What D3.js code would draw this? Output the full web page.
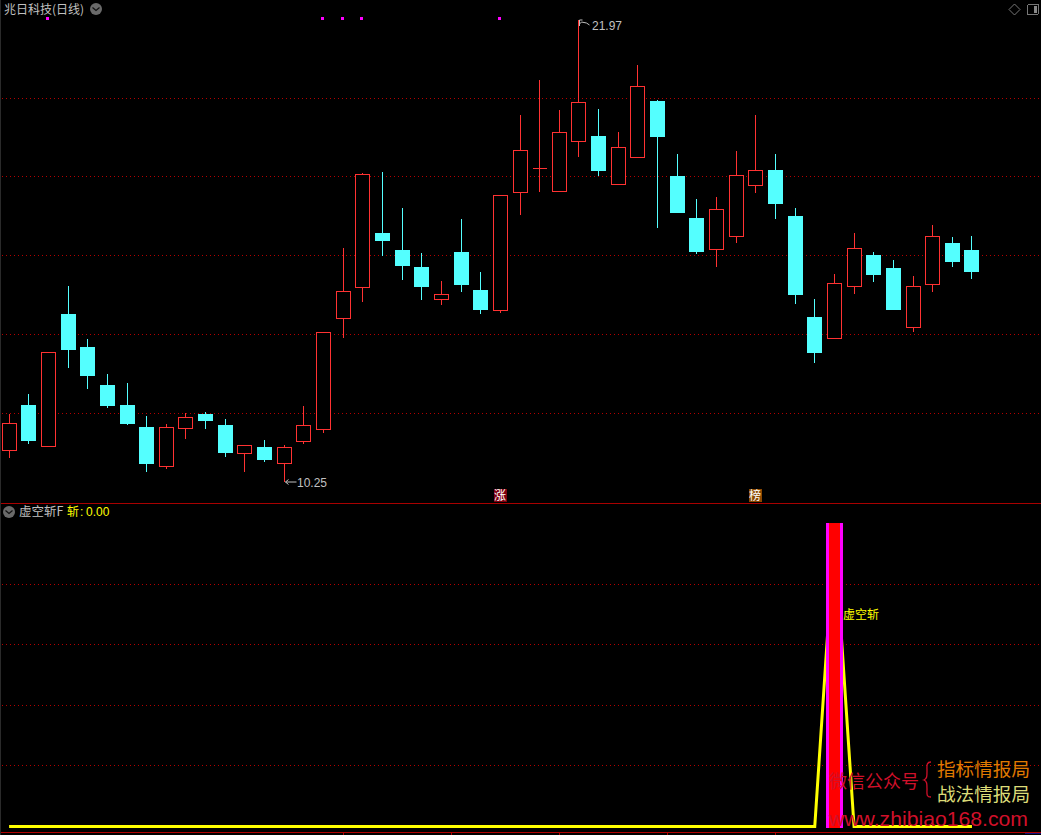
<!DOCTYPE html>
<html><head><meta charset="utf-8">
<script src="https://cdn.jsdelivr.net/npm/d3@7"></script>
<style>html,body{margin:0;padding:0;background:#000;overflow:hidden}svg{display:block}</style>
</head><body><svg id="c" width="1041" height="835"></svg>
<script>
const opens  = [11.04,12.20,11.15,14.51,13.67,12.71,12.20,11.64,10.64,11.60,11.97,11.70,10.95,11.14,10.70,11.27,11.58,14.39,15.18,16.57,16.14,15.70,14.87,16.08,15.12,14.60,17.59,18.21,17.61,18.88,19.03,17.79,18.48,19.92,18.01,16.95,16.14,16.47,17.77,18.17,17.00,14.44,13.89,15.20,16.01,15.68,14.16,15.26,16.31,16.14];
const highs  = [11.97,12.48,13.54,15.22,13.88,12.99,12.76,11.92,11.72,11.99,12.03,11.85,11.18,11.32,11.18,12.18,14.05,16.19,18.09,18.11,17.20,16.06,15.35,16.92,15.58,17.52,19.56,20.45,19.69,21.97,19.71,19.13,20.83,19.94,18.57,17.43,17.48,18.65,19.56,18.57,17.20,14.89,15.53,16.57,16.08,15.88,15.48,16.77,16.47,16.49];
const lows   = [10.87,11.22,11.15,13.15,12.62,12.13,11.70,10.51,10.58,11.34,11.59,10.89,10.51,10.76,10.25,11.22,11.50,13.91,14.82,15.98,15.37,14.87,14.74,15.07,14.51,14.54,17.02,17.61,17.61,18.50,18.01,17.79,18.48,16.69,17.07,16.03,15.70,16.31,17.58,16.92,14.77,13.27,13.89,15.02,15.32,14.61,14.06,15.07,15.70,15.40];
const closes = [11.74,11.29,13.54,13.60,12.94,12.18,11.72,10.71,11.64,11.89,11.80,10.99,11.18,10.81,11.13,11.69,14.05,15.09,18.06,16.36,15.73,15.20,15.01,15.25,14.61,17.52,18.67,18.21,19.12,19.88,18.14,18.75,20.29,19.00,17.07,16.08,17.17,18.03,18.16,17.30,14.99,13.52,15.29,16.18,15.50,14.61,15.21,16.48,15.83,15.58];
const signalIdx = [2,16,17,18,25];
const priceGrid = [19.98,18.00,16.00,13.99,11.99];
const indGrid = [79.7,59.9,39.8,20];
const lineIdx = [0,41,42,43,49];
const lineVals = [0,0,97,0,0];
const barIdx = [42];
const barVals = [100];
const monthTicks = [17,22.5,28,33.5,39];
const badges = [{i:25,t:"涨",c:"#7d0010"},{i:38,t:"榜",c:"#8a4700"}];

const svg = d3.select("#c");
const X = d3.scaleLinear().domain([0,49]).range([9.1,971.95]);
const Y = d3.scaleLinear().domain([10.25,21.97]).range([482,20]);
const Y2 = d3.scaleLinear().domain([0,100]).range([826.5,523]);
const px = v => Math.floor(v)+0.5;
const cx = i => Math.floor(X(i))+0.5;
const RED="#ff3232", CY="#54ffff", GRID="#b40000", GRAY="#c0c0c0", YEL="#ffff00";
const SANS="'Liberation Sans',Arial,sans-serif", CJK="'Noto Sans CJK SC',sans-serif";

svg.append("rect").attr("width",1041).attr("height",835).attr("fill","#000");
svg.append("rect").attr("width",1).attr("height",835).attr("fill","#2a2a2a");

const crisp = svg.append("g").attr("shape-rendering","crispEdges");
crisp.selectAll(".g1").data(priceGrid).join("line").attr("x1",2).attr("x2",1041)
  .attr("y1",d=>px(Y(d))).attr("y2",d=>px(Y(d))).attr("stroke",GRID).attr("stroke-dasharray","1 3");
crisp.selectAll(".g2").data(indGrid).join("line").attr("x1",2).attr("x2",1041)
  .attr("y1",d=>px(Y2(d))).attr("y2",d=>px(Y2(d))).attr("stroke",GRID).attr("stroke-dasharray","1 3");
crisp.append("line").attr("x1",1).attr("x2",1041).attr("y1",503.5).attr("y2",503.5).attr("stroke","#a80000");
crisp.append("line").attr("x1",1).attr("x2",1041).attr("y1",832.5).attr("y2",832.5).attr("stroke","#b00000");
crisp.selectAll(".t").data(monthTicks).join("line").attr("x1",d=>cx(d)).attr("x2",d=>cx(d))
  .attr("y1",833).attr("y2",835).attr("stroke","#b00000");
crisp.append("line").attr("x1",1025).attr("x2",1041).attr("y1",833.5).attr("y2",833.5).attr("stroke","#101080");

const rows = opens.map((o,i)=>({i,o,h:highs[i],l:lows[i],c:closes[i],up:closes[i]>=o}));
rows.forEach(d=>{
  const col=d.up?RED:CY, x=cx(d.i);
  const top=Math.round(Y(Math.max(d.o,d.c))), bot=Math.round(Y(Math.min(d.o,d.c)));
  const hy=Math.round(Y(d.h)), ly=Math.round(Y(d.l));
  if(hy<top) crisp.append("line").attr("x1",x).attr("x2",x).attr("y1",hy).attr("y2",top).attr("stroke",col);
  if(ly>bot) crisp.append("line").attr("x1",x).attr("x2",x).attr("y1",bot).attr("y2",ly).attr("stroke",col);
  if(d.up){
    if(bot-top<=1){
      crisp.append("line").attr("x1",x-7).attr("x2",x+7).attr("y1",top+.5).attr("y2",top+.5).attr("stroke",col);
    } else {
      crisp.append("rect").attr("x",x-7).attr("width",14).attr("y",top+.5).attr("height",bot-top-1).attr("fill","#000").attr("stroke",col);
    }
  } else {
    crisp.append("rect").attr("x",x-7.5).attr("width",15).attr("y",top).attr("height",bot-top).attr("fill",col);
  }
});
crisp.selectAll(".s").data(signalIdx).join("rect").attr("x",d=>cx(d)-2.5).attr("y",17).attr("width",3).attr("height",3).attr("fill","#ff00ff");

const lineGen=d3.line().x((d,k)=>X(lineIdx[k])).y(d=>Y2(d));
svg.append("path").attr("d",lineGen(lineVals)).attr("fill","none").attr("stroke",YEL).attr("stroke-width",3).attr("stroke-linejoin","miter");
const bars = svg.append("g").attr("shape-rendering","crispEdges");
bars.selectAll(".b1").data(barIdx).join("rect").attr("x",d=>cx(d)-8.5).attr("width",17)
  .attr("y",(d,k)=>Y2(barVals[k])).attr("height",(d,k)=>Y2(0)-Y2(barVals[k])+1).attr("fill","#ff00ff");
bars.selectAll(".b2").data(barIdx).join("rect").attr("x",d=>cx(d)-5.5).attr("width",11)
  .attr("y",(d,k)=>Y2(barVals[k])).attr("height",(d,k)=>Y2(0)-Y2(barVals[k])+1).attr("fill","#ff0000");

function txt(x,y,t,fill,size,font,extra){
  const e=svg.append("text").attr("x",x).attr("y",y).attr("fill",fill).attr("font-size",size).attr("font-family",font).text(t);
  if(extra) Object.entries(extra).forEach(([k,v])=>e.attr(k,v));
  return e;
}
txt(4,14,"兆日科技(日线)",GRAY,12,CJK);
function chevron(x,y){
  svg.append("circle").attr("cx",x).attr("cy",y).attr("r",6).attr("fill","#6a6a6a");
  svg.append("path").attr("d",`M${x-3.5} ${y-1.5}L${x} ${y+1.5}L${x+3.5} ${y-1.5}`).attr("fill","none").attr("stroke","#111").attr("stroke-width",1.2);
}
chevron(96,9); chevron(9,512);
txt(19,516,"虚空斩F",GRAY,12.5,CJK);
txt(67,516,"斩",YEL,12,CJK);
txt(80,516,":",YEL,12,SANS);
txt(86,516,"0.00",YEL,12,SANS);
txt(843,619,"虚空斩",YEL,12,CJK);

const hiX=cx(29), hiY=Y(21.97), loX=cx(14), loY=Y(10.25);
svg.append("path").attr("d",`M${hiX+1} ${hiY+4}L${hiX+3} ${hiY+2}L${hiX+8} ${hiY+3}L${hiX+11} ${hiY+5}M${hiX+1} ${hiY}L${hiX+4} ${hiY}M${hiX+1} ${hiY}L${hiX+1} ${hiY+6}`).attr("fill","none").attr("stroke",GRAY);
txt(592,30,"21.97",GRAY,12,SANS);
svg.append("path").attr("d",`M${loX+1} ${loY}L${loX+12} ${loY}M${loX+1} ${loY}L${loX+4} ${loY-2.5}M${loX+1} ${loY}L${loX+4} ${loY+2.5}`).attr("fill","none").attr("stroke",GRAY);
txt(297,487,"10.25",GRAY,12,SANS);

badges.forEach(b=>{
  const x=cx(b.i);
  crisp.append("rect").attr("x",x-7).attr("y",489).attr("width",13).attr("height",13).attr("fill",b.c);
  txt(x-6.5,500,b.t,"#ffffff",12,CJK);
});

svg.append("path").attr("d","M1014.5 4L1020 9.5L1014.5 15L1009 9.5Z").attr("fill","none").attr("stroke","#777");
crisp.append("rect").attr("x",1027.5).attr("y",4.5).attr("width",11).attr("height",10).attr("rx",1.5).attr("fill","none").attr("stroke","#777");
crisp.append("rect").attr("x",1034).attr("y",6).attr("width",3).attr("height",7).attr("fill","#888");

txt(829,788,"微信公众号","#d0102a",18,CJK);
svg.append("path").attr("d","M931 762C926 762 927 766 927 771C927 776 927 779 924 780C927 781 927 784 927 789C927 794 926 797 931 797").attr("fill","none").attr("stroke","#d0102a").attr("stroke-width",1.3);
txt(937,776,"指标情报局","#e07a00",18.6,CJK);
txt(937,801,"战法情报局","#dcdc78",18.6,CJK);
txt(829,826,"www.zhibiao168.com","#d0102a",21,SANS,{textLength:199,lengthAdjust:"spacingAndGlyphs"});
</script></body></html>
